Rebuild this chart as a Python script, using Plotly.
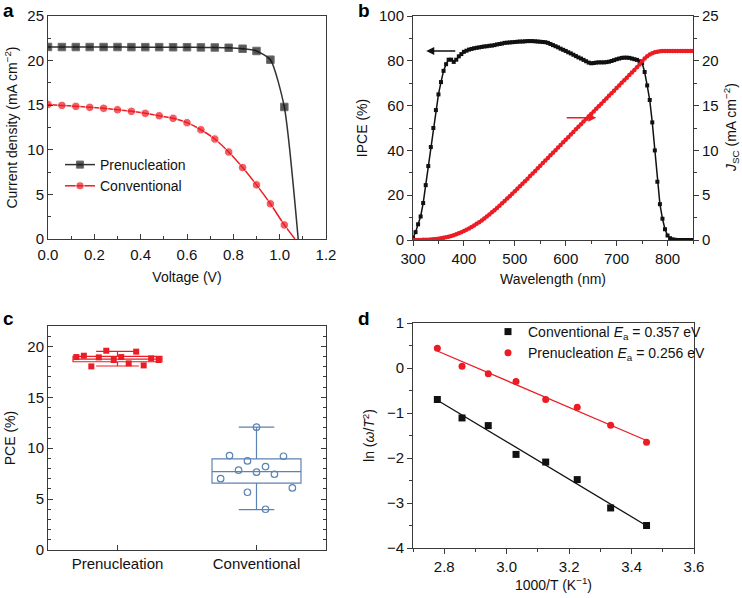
import numpy as np
import plotly.graph_objects as go

# ---------------- data ----------------
# (a) J-V curves
jv_voltage = [0.00, 0.06, 0.12, 0.18, 0.24, 0.30, 0.36, 0.42, 0.48, 0.54,
              0.60, 0.66, 0.72, 0.78, 0.84, 0.90, 0.96, 1.02]
pre_J = [21.53, 21.52, 21.52, 21.52, 21.52, 21.52, 21.51, 21.51, 21.51, 21.50,
         21.50, 21.48, 21.47, 21.44, 21.33, 21.08, 20.10, 14.80]
conv_J = [15.09, 14.98, 14.87, 14.76, 14.65, 14.49, 14.31, 14.09, 13.82, 13.53,
          13.04, 12.25, 11.21, 9.75, 8.01, 6.07, 3.95, 1.58]
pre_voc = 1.08
conv_voc = 1.066

# (b) IPCE and integrated Jsc
wavelength = list(range(300, 855, 5))
ipce = [1.0, 3.5, 7.0, 10.5, 16.5, 24.5, 33.0, 41.5, 50.0, 58.0,
        65.0, 70.5, 75.5, 78.5, 80.5, 80.5, 79.5, 80.5, 82.0, 83.0,
        84.0, 84.5, 85.0, 85.3, 85.6, 85.8, 86.0, 86.2, 86.4, 86.5,
        86.7, 86.8, 87.0, 87.3, 87.5, 87.7, 88.0, 88.1, 88.2, 88.3,
        88.4, 88.5, 88.6, 88.6, 88.7, 88.8, 88.8, 88.8, 88.7, 88.6,
        88.5, 88.4, 88.3, 88.0, 87.5, 87.0, 86.5, 86.0, 85.4, 84.9,
        84.4, 83.8, 83.3, 82.7, 82.1, 81.5, 81.0, 80.4, 79.8, 79.2,
        78.9, 79.0, 79.2, 79.3, 79.3, 79.3, 79.4, 79.6, 79.9, 80.3,
        80.7, 81.0, 81.3, 81.4, 81.4, 81.3, 81.0, 80.7, 80.4, 79.8,
        79.0, 75.0, 69.0, 62.5, 52.5, 40.0, 26.0, 16.0, 9.5, 4.8,
        2.0, 0.8, 0.3, 0.1, 0.0, 0.0, 0.0, 0.0, 0.0, 0.0, 0.0]
jsc = [0.00, 0.00, 0.01, 0.01, 0.02, 0.03, 0.04, 0.06, 0.08, 0.11,
       0.15, 0.19, 0.24, 0.30, 0.37, 0.45, 0.54, 0.64, 0.75, 0.87,
       1.00, 1.14, 1.29, 1.45, 1.62, 1.80, 1.99, 2.19, 2.40, 2.62,
       2.85, 3.09, 3.33, 3.58, 3.83, 4.09, 4.35, 4.62, 4.89, 5.16,
       5.43, 5.71, 5.99, 6.27, 6.55, 6.84, 7.13, 7.42, 7.71, 8.00,
       8.29, 8.58, 8.87, 9.16, 9.45, 9.74, 10.03, 10.32, 10.61, 10.90,
       11.19, 11.48, 11.77, 12.06, 12.35, 12.64, 12.93, 13.22, 13.50, 13.78,
       14.06, 14.35, 14.64, 14.93, 15.22, 15.51, 15.80, 16.09, 16.38, 16.67,
       16.96, 17.25, 17.54, 17.83, 18.12, 18.41, 18.70, 18.98, 19.27, 19.60,
       19.95, 20.25, 20.50, 20.70, 20.85, 20.95, 21.02, 21.06, 21.08, 21.08,
       21.08, 21.08, 21.08, 21.08, 21.08, 21.08, 21.08, 21.08, 21.08, 21.08, 21.08]

# (c) PCE statistics
categories = ["Prenucleation", "Conventional"]
pre_pce = [18.95, 19.08, 18.03, 18.92, 19.57, 18.66, 18.95, 18.33, 19.48, 18.13, 18.82, 18.66]
conv_pce = [7.01, 9.27, 7.84, 8.75, 5.67, 12.06, 7.64, 8.19, 4.00, 7.44, 9.21, 6.10]
pre_box = dict(q1=18.49, median=18.75, q3=19.02, lowerfence=18.07, upperfence=19.50)
conv_box = dict(q1=6.56, median=7.70, q3=8.95, lowerfence=3.97, upperfence=12.07)

# (d) Arrhenius plot
inv_T = [2.778, 2.857, 2.941, 3.030, 3.125, 3.226, 3.333, 3.448]
ln_conv = [-0.70, -1.11, -1.28, -1.92, -2.09, -2.48, -3.11, -3.50]
ln_pre = [0.44, 0.04, -0.13, -0.30, -0.70, -0.87, -1.27, -1.65]

# ---------------- styling ----------------
FONT = "Liberation Sans, Arial, Helvetica, sans-serif"
RED = "#ec1c24"
BLACK = "#111111"
BLUE = "#5b84b4"
AX = "#3a3a3a"
W, H = 742, 598

def px_x(a, b):
    return [a / W, b / W]

def px_y(top, bottom):
    return [1 - bottom / H, 1 - top / H]

def pxx(a):
    return a / W

def pxy(a):
    return 1 - a / H

fig = go.Figure()

# ---- panel a ----
fig.add_trace(go.Scatter(
    x=jv_voltage + [pre_voc], y=pre_J + [0], mode="lines+markers", name="Prenucleation",
    line=dict(color="#333333", width=1.5, shape="spline", smoothing=0.6),
    marker=dict(symbol="square", size=[7.5] * len(jv_voltage) + [0], color=BLACK),
    xaxis="x", yaxis="y", legend="legend"))
fig.add_trace(go.Scatter(
    x=jv_voltage + [conv_voc], y=conv_J + [0], mode="lines+markers", name="Conventional",
    line=dict(color=RED, width=1.5, shape="spline", smoothing=0.6),
    marker=dict(symbol="circle", size=[8.5] * len(jv_voltage) + [0], color=RED),
    xaxis="x", yaxis="y", legend="legend"))

# ---- panel b ----
fig.add_trace(go.Scatter(
    x=wavelength, y=jsc, mode="lines+markers", showlegend=False,
    line=dict(color=RED, width=2), marker=dict(size=4.5, color=RED),
    xaxis="x2", yaxis="y3"))
fig.add_trace(go.Scatter(
    x=wavelength, y=ipce, mode="lines+markers", showlegend=False,
    line=dict(color=BLACK, width=1.5), marker=dict(symbol="square", size=4, color=BLACK),
    xaxis="x2", yaxis="y2"))

# ---- panel c ----
pre_offsets = list(np.linspace(-0.296, 0.296, len(pre_pce)))
conv_offsets = [-0.258, -0.194, -0.129, -0.065, -0.065, 0.0, 0.0, 0.065, 0.065, 0.129, 0.194, 0.258]
for i, (bx, col, ww) in enumerate([(pre_box, RED, 0.48), (conv_box, BLUE, 0.4)]):
    fig.add_trace(go.Box(
        x=[i + 1], q1=[bx["q1"]], median=[bx["median"]], q3=[bx["q3"]],
        lowerfence=[bx["lowerfence"]], upperfence=[bx["upperfence"]],
        width=0.64, whiskerwidth=ww, boxpoints=False, showlegend=False,
        line=dict(color=col, width=1.2), fillcolor="rgba(0,0,0,0)",
        xaxis="x3", yaxis="y4", hoverinfo="skip"))
fig.add_trace(go.Scatter(
    x=[1 + o for o in pre_offsets], y=pre_pce, mode="markers", showlegend=False,
    marker=dict(symbol="square", size=6, color=RED), xaxis="x3", yaxis="y4"))
fig.add_trace(go.Scatter(
    x=[2 + o for o in conv_offsets], y=conv_pce, mode="markers", showlegend=False,
    marker=dict(symbol="circle-open", size=6.5, color=BLUE, line=dict(width=1.2)),
    xaxis="x3", yaxis="y4"))

# ---- panel d ----
for yv, col in [(ln_conv, BLACK), (ln_pre, RED)]:
    k, b0 = np.polyfit(inv_T, yv, 1)
    xs = [min(inv_T), max(inv_T)]
    fig.add_trace(go.Scatter(
        x=xs, y=[k * v + b0 for v in xs], mode="lines", showlegend=False,
        line=dict(color=col, width=1.3), xaxis="x4", yaxis="y5"))
fig.add_trace(go.Scatter(
    x=inv_T, y=ln_conv, mode="markers", name="Conventional <i>E</i><sub>a</sub> = 0.357 eV",
    marker=dict(symbol="square", size=7, color=BLACK), xaxis="x4", yaxis="y5", legend="legend2"))
fig.add_trace(go.Scatter(
    x=inv_T, y=ln_pre, mode="markers", name="Prenucleation <i>E</i><sub>a</sub> = 0.256 eV",
    marker=dict(symbol="circle", size=7, color=RED), xaxis="x4", yaxis="y5", legend="legend2"))

# ---------------- axes ----------------
tickfont = dict(family=FONT, size=15, color="#111")
titlefont = dict(family=FONT, size=14, color="#111")

def ax(**kw):
    base = dict(showgrid=False, zeroline=False, showline=True, linecolor=AX, linewidth=1,
                tickcolor=AX, tickwidth=1, tickfont=tickfont, ticks="outside", ticklen=5,
                automargin=False)
    base.update(kw)
    return base

fig.update_layout(
    template="none",
    xaxis=ax(domain=px_x(48, 326), range=[0, 1.2], dtick=0.2, tickformat=".1f", anchor="y",
             ticks="inside", mirror=True, ticklabelstandoff=2,
             minor=dict(ticks="inside", dtick=0.1, ticklen=3, tickcolor=AX),
             title=dict(text="Voltage (V)", font=titlefont, standoff=10)),
    yaxis=ax(domain=px_y(16, 239), range=[0, 25], dtick=5, anchor="x",
             ticks="inside", mirror=True,
             minor=dict(ticks="inside", dtick=2.5, ticklen=3, tickcolor=AX),
             title=dict(text="Current density (mA cm<sup>−2</sup>)", font=titlefont, standoff=6)),
    xaxis2=ax(domain=px_x(413, 693), range=[300, 850], dtick=100, anchor="y2", mirror=True,
              minor=dict(ticks="outside", dtick=50, ticklen=3, tickcolor=AX),
              title=dict(text="Wavelength (nm)", font=titlefont, standoff=8)),
    yaxis2=ax(domain=px_y(16, 240), range=[0, 100], dtick=20, anchor="x2",
              minor=dict(ticks="outside", dtick=10, ticklen=3, tickcolor=AX),
              title=dict(text="IPCE (%)", font=titlefont, standoff=8)),
    yaxis3=ax(range=[0, 25], dtick=5, anchor="x2", overlaying="y2", side="right",
              minor=dict(ticks="outside", dtick=2.5, ticklen=3, tickcolor=AX)),
    xaxis3=ax(domain=px_x(48, 326), range=[0.5, 2.5], tickvals=[1, 2], ticktext=categories,
              anchor="y4", ticks="inside", mirror=True),
    yaxis4=ax(domain=px_y(326, 550), range=[0, 22], dtick=5, anchor="x3",
              ticks="inside", mirror="ticks",
              minor=dict(ticks="inside", dtick=1, ticklen=3, tickcolor=AX),
              title=dict(text="PCE (%)", font=titlefont, standoff=8)),
    xaxis4=ax(domain=px_x(413, 694), range=[2.7, 3.6], dtick=0.2, tickformat=".1f", anchor="y5",
              mirror=True,
              minor=dict(ticks="outside", dtick=0.1, ticklen=3, tickcolor=AX),
              title=dict(text="1000/T (K<sup>−1</sup>)", font=titlefont, standoff=4)),
    yaxis5=ax(domain=px_y(323, 548), range=[-4, 1], dtick=1, anchor="x4", mirror=True,
              minor=dict(ticks="outside", dtick=0.5, ticklen=3, tickcolor=AX),
              title=dict(text="ln (<i>ω</i>/<i>T</i><sup>2</sup>)", font=titlefont, standoff=8)),
    legend=dict(x=pxx(60), y=pxy(149), xanchor="left", yanchor="top",
                font=dict(family=FONT, size=14, color="#111"), bgcolor="rgba(0,0,0,0)",
                itemwidth=30, tracegroupgap=0),
    legend2=dict(x=pxx(488), y=pxy(316), xanchor="left", yanchor="top",
                 font=dict(family=FONT, size=14, color="#111"), bgcolor="rgba(0,0,0,0)",
                 itemwidth=30, tracegroupgap=0),
    width=W, height=H, margin=dict(l=0, r=0, t=0, b=0, autoexpand=False),
    plot_bgcolor="white", paper_bgcolor="white",
    font=dict(family=FONT, size=14, color="#111"),
)

# right-hand axis title of panel b
fig.add_annotation(x=pxx(731), y=pxy(128), xref="paper", yref="paper",
                   text="<i>J</i><sub>SC</sub> (mA cm<sup>−2</sup>)", textangle=-90,
                   showarrow=False, font=titlefont, xanchor="center", yanchor="middle")

# arrows in panel b
fig.add_annotation(x=326, y=84.4, ax=386, ay=84.4, xref="x2", yref="y2", axref="x2", ayref="y2",
                   showarrow=True, arrowhead=2, arrowsize=1, arrowwidth=1.6, arrowcolor=BLACK, text="")
fig.add_annotation(x=660, y=13.64, ax=599, ay=13.64, xref="x2", yref="y3", axref="x2", ayref="y3",
                   showarrow=True, arrowhead=2, arrowsize=1, arrowwidth=1.6, arrowcolor=RED, text="")

# panel letters
for lbl, xp, yp in [("a", 8, 11), ("b", 364, 11), ("c", 8, 318), ("d", 364, 318)]:
    fig.add_annotation(x=pxx(xp), y=pxy(yp), xref="paper", yref="paper", text=f"<b>{lbl}</b>",
                       showarrow=False, font=dict(family=FONT, size=19, color="#000"),
                       xanchor="center", yanchor="middle")

# place the figure flush with the page corner (remove default body margin)
fig.write_html("out.html", config={"displayModeBar": False},
               post_script="document.body.style.margin='0px';")
